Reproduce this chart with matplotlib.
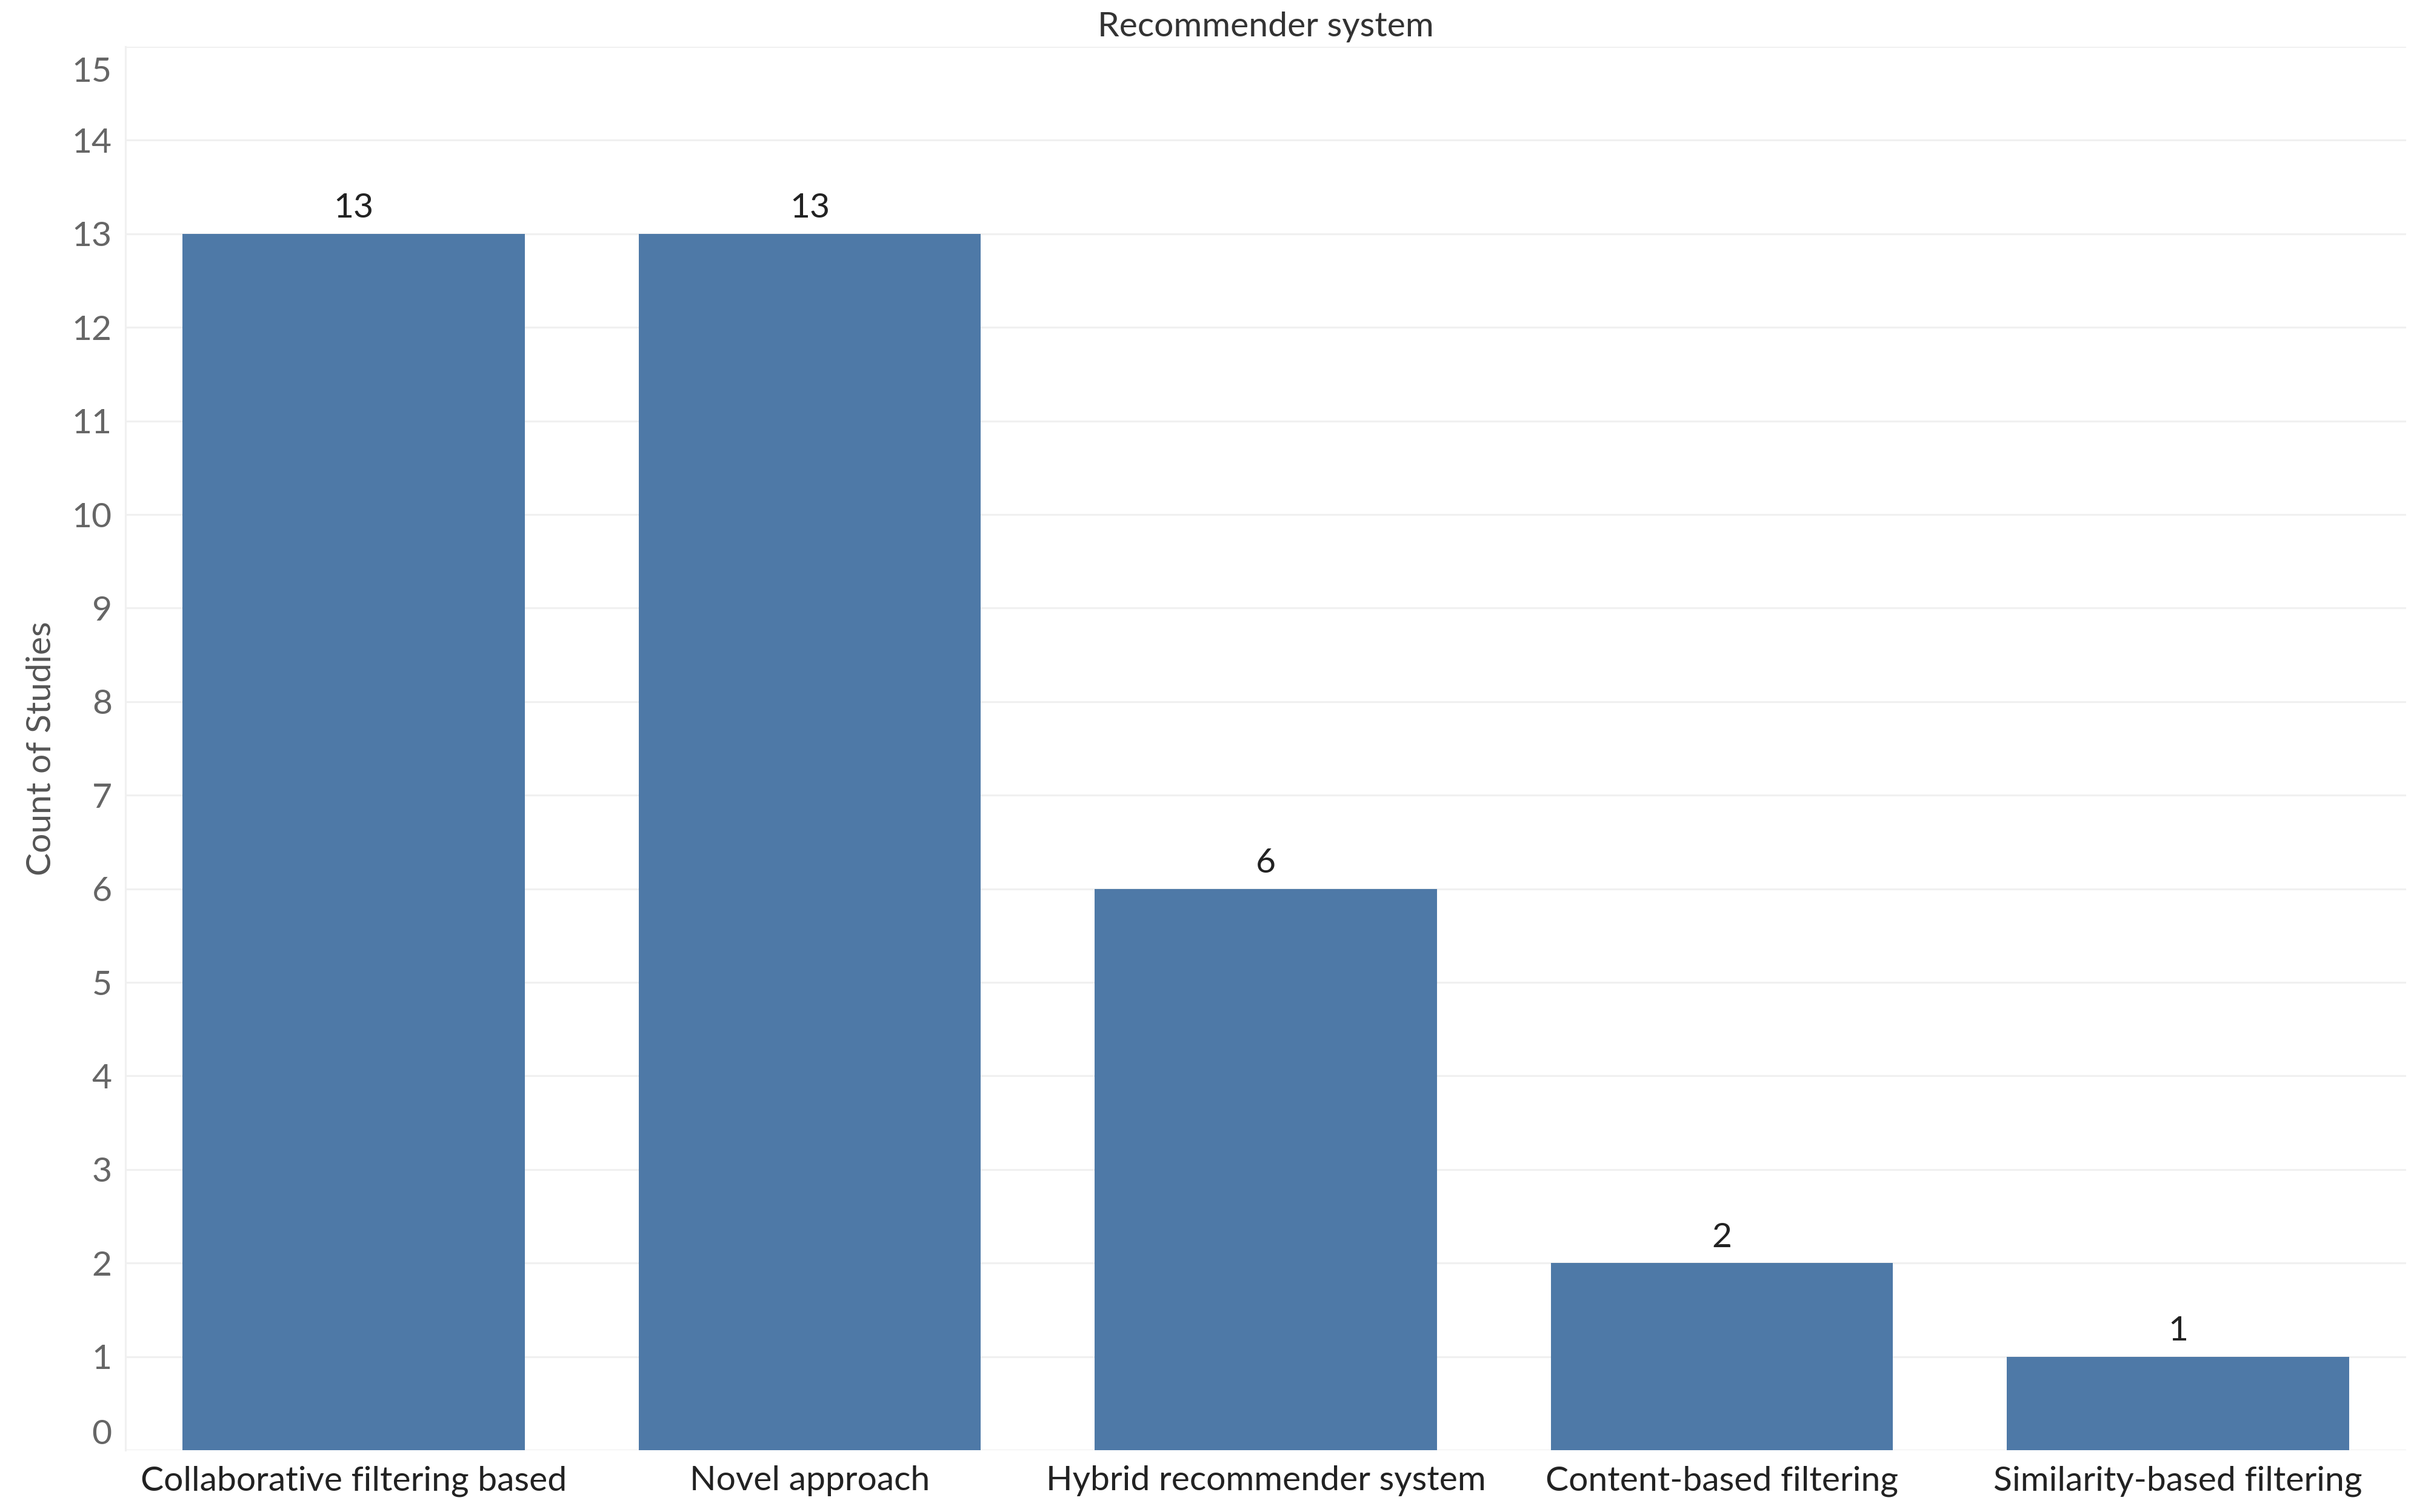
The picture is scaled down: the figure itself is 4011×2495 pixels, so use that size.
import matplotlib
matplotlib.use("Agg")
import matplotlib.pyplot as plt
from matplotlib.transforms import ScaledTranslation

categories = ["Collaborative filtering based", "Novel approach", "Hybrid recommender system",
              "Content-based filtering", "Similarity-based filtering"]
counts = [13, 13, 6, 2, 1]
y_ticks = list(range(0, 16))
title = "Recommender system"
y_label = "Count of Studies"

plt.rcParams['font.family'] = ['Lato', 'DejaVu Sans']

W, H = 4011, 2495
fig = plt.figure(figsize=(W / 100, H / 100), dpi=100)
ax = fig.add_axes([207 / W, 1 - 2393 / H, (3970 - 207) / W, (2393 - 77) / H])

x = list(range(len(categories)))
ax.bar(x, counts, width=0.75, color="#4E79A7", zorder=3)
ax.set_xlim(-0.5, len(categories) - 0.5)
ax.set_ylim(0, 15)

ax.set_yticks(y_ticks)
ax.set_yticklabels([str(t) for t in y_ticks])
ax.grid(axis="y", color="#f0f0f0", linewidth=2.2, zorder=0)
ax.set_axisbelow(True)
for s in ["top", "right", "bottom"]:
    ax.spines[s].set_visible(False)
ax.spines["left"].set_color("#f0f0f0")
ax.spines["left"].set_linewidth(2.2)
ax.axhline(0, color="#f0f0f0", linewidth=2.2, zorder=1)

fs = 41
ax.tick_params(axis="y", length=0, pad=16, labelsize=fs, labelcolor="#666666")
ax.tick_params(axis="x", length=0, pad=18, labelsize=fs, labelcolor="#222222")
ax.set_xticks(x)
ax.set_xticklabels(categories)

labels = ax.get_yticklabels()
labels[0].set_va("bottom")
labels[-1].set_va("top")
labels[-1].set_transform(labels[-1].get_transform() + ScaledTranslation(0, -12 / 72, fig.dpi_scale_trans))

for xi, v in zip(x, counts):
    ax.annotate(str(v), (xi, v), xytext=(0, 12), textcoords="offset points",
                ha="center", va="bottom", fontsize=fs, color="#222222")

ax.set_title(title, fontsize=fs, color="#333333", pad=12)
ax.set_ylabel(y_label, fontsize=fs, color="#555555", labelpad=18)

fig.savefig("out.png", dpi=100, facecolor="white")
